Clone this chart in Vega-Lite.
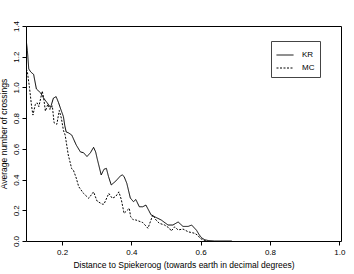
{
  "$schema": "https://vega.github.io/schema/vega-lite/v6.json",
  "width": 315,
  "height": 215,
  "autosize": {"type": "none"},
  "padding": {"left": 26, "top": 26, "right": 13, "bottom": 33},
  "config": {
    "font": "Liberation Sans",
    "view": {"stroke": "#000", "strokeWidth": 1},
    "axis": {
      "domain": false,
      "grid": false,
      "tickColor": "#000",
      "tickSize": 4,
      "labelFont": "Liberation Sans",
      "titleFont": "Liberation Sans",
      "labelFontSize": 8,
      "titleFontSize": 8.5,
      "labelColor": "#000",
      "titleColor": "#000",
      "titleFontWeight": "normal"
    }
  },
  "data": {
    "values": [
      {"x": 0.097, "y": 1.30, "s": "KR"},
      {"x": 0.100, "y": 1.24, "s": "KR"},
      {"x": 0.104, "y": 1.12, "s": "KR"},
      {"x": 0.110, "y": 1.10, "s": "KR"},
      {"x": 0.118, "y": 1.085, "s": "KR"},
      {"x": 0.126, "y": 0.99, "s": "KR"},
      {"x": 0.138, "y": 0.965, "s": "KR"},
      {"x": 0.147, "y": 0.93, "s": "KR"},
      {"x": 0.157, "y": 0.90, "s": "KR"},
      {"x": 0.167, "y": 0.87, "s": "KR"},
      {"x": 0.175, "y": 0.93, "s": "KR"},
      {"x": 0.183, "y": 0.94, "s": "KR"},
      {"x": 0.190, "y": 0.90, "s": "KR"},
      {"x": 0.196, "y": 0.86, "s": "KR"},
      {"x": 0.204, "y": 0.81, "s": "KR"},
      {"x": 0.208, "y": 0.75, "s": "KR"},
      {"x": 0.212, "y": 0.71, "s": "KR"},
      {"x": 0.218, "y": 0.705, "s": "KR"},
      {"x": 0.228, "y": 0.69, "s": "KR"},
      {"x": 0.241, "y": 0.625, "s": "KR"},
      {"x": 0.253, "y": 0.58, "s": "KR"},
      {"x": 0.262, "y": 0.575, "s": "KR"},
      {"x": 0.272, "y": 0.55, "s": "KR"},
      {"x": 0.282, "y": 0.575, "s": "KR"},
      {"x": 0.291, "y": 0.61, "s": "KR"},
      {"x": 0.297, "y": 0.58, "s": "KR"},
      {"x": 0.301, "y": 0.54, "s": "KR"},
      {"x": 0.313, "y": 0.43, "s": "KR"},
      {"x": 0.321, "y": 0.467, "s": "KR"},
      {"x": 0.328, "y": 0.473, "s": "KR"},
      {"x": 0.334, "y": 0.42, "s": "KR"},
      {"x": 0.342, "y": 0.365, "s": "KR"},
      {"x": 0.355, "y": 0.39, "s": "KR"},
      {"x": 0.369, "y": 0.425, "s": "KR"},
      {"x": 0.374, "y": 0.43, "s": "KR"},
      {"x": 0.379, "y": 0.42, "s": "KR"},
      {"x": 0.387, "y": 0.375, "s": "KR"},
      {"x": 0.397, "y": 0.28, "s": "KR"},
      {"x": 0.406, "y": 0.256, "s": "KR"},
      {"x": 0.413, "y": 0.27, "s": "KR"},
      {"x": 0.423, "y": 0.223, "s": "KR"},
      {"x": 0.433, "y": 0.223, "s": "KR"},
      {"x": 0.442, "y": 0.234, "s": "KR"},
      {"x": 0.457, "y": 0.17, "s": "KR"},
      {"x": 0.467, "y": 0.158, "s": "KR"},
      {"x": 0.486, "y": 0.137, "s": "KR"},
      {"x": 0.506, "y": 0.104, "s": "KR"},
      {"x": 0.520, "y": 0.104, "s": "KR"},
      {"x": 0.535, "y": 0.124, "s": "KR"},
      {"x": 0.549, "y": 0.095, "s": "KR"},
      {"x": 0.564, "y": 0.095, "s": "KR"},
      {"x": 0.574, "y": 0.104, "s": "KR"},
      {"x": 0.588, "y": 0.07, "s": "KR"},
      {"x": 0.596, "y": 0.04, "s": "KR"},
      {"x": 0.603, "y": 0.02, "s": "KR"},
      {"x": 0.612, "y": 0.008, "s": "KR"},
      {"x": 0.622, "y": 0.003, "s": "KR"},
      {"x": 0.640, "y": 0.0, "s": "KR"},
      {"x": 0.690, "y": 0.0, "s": "KR"},
      {"x": 0.097, "y": 1.12, "s": "MC"},
      {"x": 0.100, "y": 1.10, "s": "MC"},
      {"x": 0.106, "y": 1.00, "s": "MC"},
      {"x": 0.112, "y": 0.88, "s": "MC"},
      {"x": 0.116, "y": 0.82, "s": "MC"},
      {"x": 0.123, "y": 0.89, "s": "MC"},
      {"x": 0.128, "y": 0.90, "s": "MC"},
      {"x": 0.133, "y": 0.875, "s": "MC"},
      {"x": 0.143, "y": 0.976, "s": "MC"},
      {"x": 0.147, "y": 0.93, "s": "MC"},
      {"x": 0.152, "y": 0.846, "s": "MC"},
      {"x": 0.159, "y": 0.89, "s": "MC"},
      {"x": 0.165, "y": 0.857, "s": "MC"},
      {"x": 0.172, "y": 0.88, "s": "MC"},
      {"x": 0.177, "y": 0.77, "s": "MC"},
      {"x": 0.185, "y": 0.76, "s": "MC"},
      {"x": 0.192, "y": 0.85, "s": "MC"},
      {"x": 0.198, "y": 0.80, "s": "MC"},
      {"x": 0.204, "y": 0.72, "s": "MC"},
      {"x": 0.209, "y": 0.69, "s": "MC"},
      {"x": 0.218, "y": 0.56, "s": "MC"},
      {"x": 0.228, "y": 0.47, "s": "MC"},
      {"x": 0.233, "y": 0.46, "s": "MC"},
      {"x": 0.241, "y": 0.41, "s": "MC"},
      {"x": 0.248, "y": 0.354, "s": "MC"},
      {"x": 0.262, "y": 0.31, "s": "MC"},
      {"x": 0.277, "y": 0.278, "s": "MC"},
      {"x": 0.291, "y": 0.32, "s": "MC"},
      {"x": 0.301, "y": 0.26, "s": "MC"},
      {"x": 0.316, "y": 0.24, "s": "MC"},
      {"x": 0.321, "y": 0.24, "s": "MC"},
      {"x": 0.335, "y": 0.31, "s": "MC"},
      {"x": 0.345, "y": 0.278, "s": "MC"},
      {"x": 0.355, "y": 0.29, "s": "MC"},
      {"x": 0.364, "y": 0.32, "s": "MC"},
      {"x": 0.371, "y": 0.27, "s": "MC"},
      {"x": 0.379, "y": 0.18, "s": "MC"},
      {"x": 0.388, "y": 0.20, "s": "MC"},
      {"x": 0.394, "y": 0.213, "s": "MC"},
      {"x": 0.398, "y": 0.158, "s": "MC"},
      {"x": 0.406, "y": 0.137, "s": "MC"},
      {"x": 0.413, "y": 0.137, "s": "MC"},
      {"x": 0.433, "y": 0.12, "s": "MC"},
      {"x": 0.448, "y": 0.083, "s": "MC"},
      {"x": 0.462, "y": 0.17, "s": "MC"},
      {"x": 0.471, "y": 0.137, "s": "MC"},
      {"x": 0.481, "y": 0.115, "s": "MC"},
      {"x": 0.496, "y": 0.104, "s": "MC"},
      {"x": 0.510, "y": 0.083, "s": "MC"},
      {"x": 0.515, "y": 0.065, "s": "MC"},
      {"x": 0.525, "y": 0.092, "s": "MC"},
      {"x": 0.535, "y": 0.072, "s": "MC"},
      {"x": 0.549, "y": 0.078, "s": "MC"},
      {"x": 0.564, "y": 0.06, "s": "MC"},
      {"x": 0.583, "y": 0.05, "s": "MC"},
      {"x": 0.593, "y": 0.035, "s": "MC"},
      {"x": 0.598, "y": 0.018, "s": "MC"},
      {"x": 0.608, "y": 0.006, "s": "MC"},
      {"x": 0.620, "y": 0.0, "s": "MC"}
    ]
  },
  "mark": {"type": "line", "color": "#000", "strokeWidth": 1, "clip": true},
  "encoding": {
    "x": {
      "field": "x",
      "type": "quantitative",
      "scale": {"domain": [0.096, 1.005], "nice": false, "zero": false},
      "axis": {
        "values": [0.2, 0.4, 0.6, 0.8, 1.0],
        "format": ".1f",
        "labelPadding": 3,
        "title": "Distance to Spiekeroog (towards earth in decimal degrees)",
        "titlePadding": 4
      }
    },
    "y": {
      "field": "y",
      "type": "quantitative",
      "scale": {"domain": [0, 1.4], "nice": false},
      "axis": {
        "values": [0, 0.2, 0.4, 0.6, 0.8, 1.0, 1.2, 1.4],
        "format": ".1f",
        "labelAngle": -90,
        "labelAlign": "center",
        "labelBaseline": "bottom",
        "labelPadding": 2,
        "title": "Average number of crossings",
        "titlePadding": 4
      }
    },
    "strokeDash": {
      "field": "s",
      "type": "nominal",
      "scale": {"domain": ["KR", "MC"], "range": [[1, 0], [2, 1.5]]},
      "legend": {
        "title": null,
        "orient": "none",
        "legendX": 245,
        "legendY": 15,
        "padding": 5,
        "strokeColor": "#444",
        "symbolType": "stroke",
        "symbolSize": 289,
        "symbolStrokeColor": "#000",
        "symbolStrokeWidth": 1,
        "labelFontSize": 8,
        "labelFont": "Liberation Sans",
        "labelColor": "#000",
        "labelOffset": 8,
        "rowPadding": -7
      }
    }
  }
}
